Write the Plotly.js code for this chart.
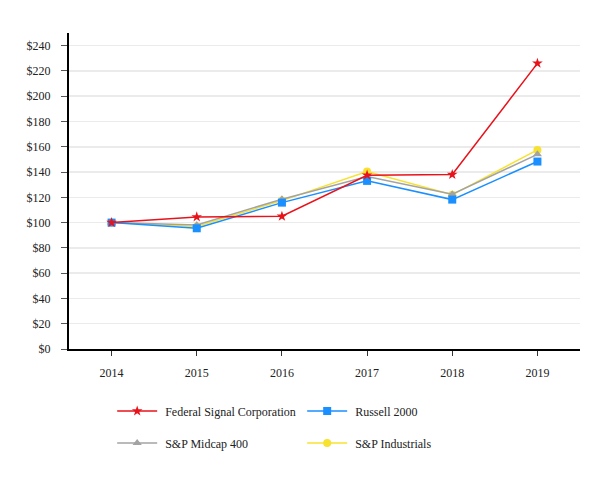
<!DOCTYPE html>
<html><head><meta charset="utf-8">
<script src="https://cdn.plot.ly/plotly-3.0.1.min.js"></script>
<style>html,body{margin:0;padding:0;background:#fff}</style>
</head><body>
<div id="chart" style="width:613px;height:480px"></div>
<script>
var years = ['2014','2015','2016','2017','2018','2019'];
var federalSignal = [100, 104.5, 105, 137.5, 138, 226];
var russell2000 = [100, 95.5, 115.8, 133, 118.2, 148.3];
var spMidcap400 = [100, 98.2, 118.5, 136.4, 122.4, 154];
var spIndustrials = [100, 97, 117.4, 140.4, 122, 157.5];
var yTicks = [0,20,40,60,80,100,120,140,160,180,200,220,240];
var yTickText = yTicks.map(function(v){return '$'+v;});
var FONT = 'Liberation Serif';

function tr(name, y, color, symbol, size, legend){
  return {x: years, y: y, name: '\u00a0' + name, type: 'scatter', mode: 'lines+markers',
    line: {color: color, width: 1.5},
    marker: {color: color, symbol: symbol, size: size},
    legend: legend};
}
var data = [
  tr('S&P Industrials', spIndustrials, '#f7e22f', 'circle', 8, 'legend2'),
  tr('S&P Midcap 400', spMidcap400, '#a3a3a3', 'triangle-up', 8, 'legend2'),
  tr('Russell 2000', russell2000, '#1a8fff', 'square', 8, 'legend'),
  tr('Federal Signal Corporation', federalSignal, '#e8121b', 'star', 8, 'legend')
];
var legBase = {orientation: 'h', xref: 'container', yref: 'container', xanchor: 'left', yanchor: 'middle',
  font: {family: FONT, size: 12, color: '#222'}, entrywidth: 135, entrywidthmode: 'pixels',
  itemwidth: 40, traceorder: 'reversed', bgcolor: 'rgba(0,0,0,0)'};
var layout = {
  width: 613, height: 480,
  margin: {l: 69, r: 33, t: 33, b: 131},
  paper_bgcolor: '#fff', plot_bgcolor: '#fff',
  font: {family: FONT, size: 12, color: '#222'},
  xaxis: {type: 'category', range: [-0.5, 5.5], showline: true, linecolor: '#000', linewidth: 2,
    ticks: 'outside', ticklen: 5, tickcolor: '#333', showgrid: false, zeroline: false,
    ticklabelstandoff: 7, fixedrange: true, tickfont: {family: FONT, size: 12, color: '#222'}},
  yaxis: {range: [0, 250], tickvals: yTicks, ticktext: yTickText, showline: true, linecolor: '#000', linewidth: 2,
    ticks: 'outside', ticklen: 6, tickcolor: '#555', gridcolor: '#ebebeb', gridwidth: 1.5, zeroline: false,
    ticklabelstandoff: 8, fixedrange: true, tickfont: {family: FONT, size: 12, color: '#222'}},
  showlegend: true,
  legend: Object.assign({}, legBase, {x: 0.183, y: 1 - 411/480}),
  legend2: Object.assign({}, legBase, {x: 0.183, y: 1 - 443/480})
};
Plotly.newPlot('chart', data, layout, {displayModeBar: false, staticPlot: true});
</script>
</body></html>
